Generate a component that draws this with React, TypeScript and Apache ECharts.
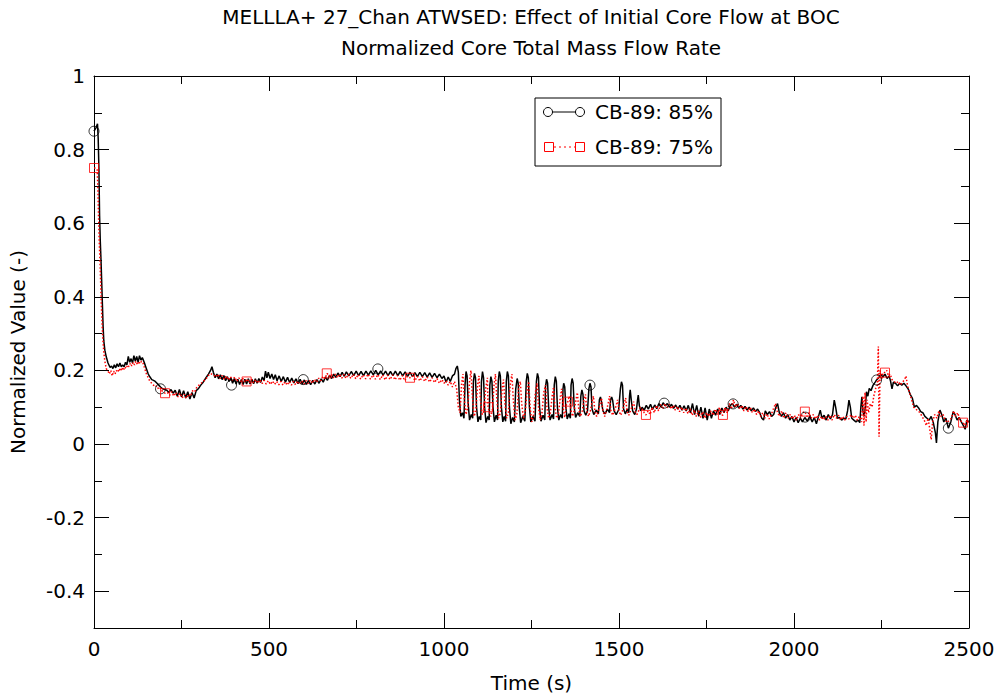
import React, { useEffect, useRef } from "react";
import * as echarts from "echarts";

const FONT = '"DejaVu Sans", sans-serif';

const titleLines = [
  "MELLLA+ 27_Chan ATWSED: Effect of Initial Core Flow at BOC",
  "Normalized Core Total Mass Flow Rate",
];
const seriesNames = ["CB-89: 85%", "CB-89: 75%"];
const xTicks = [0, 500, 1000, 1500, 2000, 2500];
const yMajorTicks = [-0.4, -0.2, 0, 0.2, 0.4, 0.6, 0.8, 1];
const yMinorTicks = [-0.5, -0.3, -0.1, 0.1, 0.3, 0.5, 0.7, 0.9];

// CB-89: 85% (black) — [time s, normalized value]
const cb85: number[][] = [
  [0,0.85],[6,0.86],[10,0.87],[12,0.83],[14,0.75],[16,0.62],[18,0.55],[20,0.5],[22,0.44],[24,0.38],[26,0.32],[28,0.28],[31,0.255],[35,0.237],[40,0.22],
  [46,0.208],[50,0.212],[54,0.205],[58,0.215],[62,0.207],[66,0.218],[70,0.21],[74,0.22],[78,0.21],[82,0.215],[86,0.21],[90,0.222],[94,0.215],[98,0.238],[102,0.222],[106,0.232],[110,0.22],[114,0.24],[118,0.225],[122,0.238],[126,0.222],[130,0.24],[134,0.228],[138,0.235],
  [141,0.228],[146,0.215],[150,0.204],[155,0.19],[160,0.182],[165,0.175],[170,0.173],[175,0.17],[180,0.165],[185,0.16],[190,0.155],[196,0.15],[202,0.148],[208,0.146],[214,0.14],[220,0.148],[226,0.138],[232,0.146],[238,0.13],[244,0.148],[250,0.128],[256,0.145],[262,0.125],[268,0.142],[274,0.122],[280,0.14],[286,0.125],[292,0.145],[298,0.15],[305,0.16],[312,0.168],[320,0.18],[327,0.19],[333,0.2],[337,0.21],
  [341,0.195],[346,0.18],[351,0.19],[356,0.177],[361,0.188],[366,0.175],[371,0.186],[376,0.172],[381,0.183],[386,0.17],[391,0.18],[396,0.165],[401,0.178],[406,0.163],[411,0.176],[416,0.162],[421,0.175],[426,0.162],[431,0.176],[436,0.163],[441,0.177],[446,0.163],[451,0.176],[456,0.164],[461,0.177],[466,0.165],[471,0.178],[476,0.167],[481,0.182],[486,0.172],[490,0.198],[494,0.18],[498,0.195],[503,0.178],[508,0.19],[513,0.175],[518,0.188],[523,0.172],[529,0.185],[535,0.17],[541,0.183],[547,0.168],[553,0.181],[559,0.167],[565,0.179],[571,0.166],[577,0.177],[583,0.164],[589,0.176],[595,0.163],[601,0.174],[607,0.162],[613,0.172],[619,0.161],[625,0.173],[631,0.163],[637,0.175],[643,0.165],[649,0.177],[655,0.168],[661,0.182],[667,0.173],[673,0.187],[679,0.178],[685,0.19],[691,0.181],[697,0.193],[703,0.183],[709,0.195],[715,0.184],[721,0.196],[728,0.185],[735,0.197],[742,0.186],[749,0.198],[756,0.186],[763,0.197],[770,0.186],[777,0.198],[784,0.187],[791,0.199],[798,0.188],[805,0.2],[812,0.188],[819,0.199],[826,0.187],[833,0.198],[840,0.186],[847,0.197],[854,0.186],[861,0.198],[868,0.186],[875,0.197],[882,0.185],[889,0.196],[896,0.184],[903,0.195],[910,0.183],[917,0.194],[924,0.183],[931,0.195],[938,0.183],[945,0.194],[952,0.182],[959,0.193],[966,0.181],[973,0.192],[980,0.18],[987,0.19],[994,0.178],[1000,0.185],[1006,0.168],[1012,0.182],[1018,0.17],[1024,0.185],
  [1030,0.19],[1034,0.205],[1038,0.212],[1041,0.195],[1044,0.12],[1048,0.075],[1053,0.085],[1057,0.07],[1060,0.16],[1063,0.197],[1066,0.185],[1069,0.11],[1073,0.065],[1078,0.08],[1082,0.07],[1084,0.17],[1087,0.192],[1090,0.18],[1093,0.1],[1097,0.06],[1101,0.075],[1105,0.065],[1107,0.17],[1110,0.197],[1113,0.18],[1116,0.1],[1120,0.058],[1125,0.075],[1129,0.065],[1131,0.16],[1134,0.183],[1137,0.17],[1140,0.1],[1144,0.06],[1149,0.078],[1153,0.065],[1155,0.17],[1158,0.197],[1161,0.185],[1164,0.1],[1168,0.06],[1172,0.075],[1176,0.062],[1178,0.17],[1181,0.197],[1184,0.185],[1187,0.1],[1191,0.055],[1196,0.072],[1201,0.06],[1205,0.15],[1209,0.178],[1212,0.165],[1215,0.1],[1219,0.058],[1225,0.075],[1231,0.062],[1235,0.17],[1238,0.192],[1241,0.18],[1244,0.1],[1248,0.06],[1254,0.075],[1260,0.062],[1264,0.17],[1267,0.192],[1270,0.18],[1273,0.1],[1277,0.062],[1283,0.078],[1288,0.065],[1290,0.155],[1293,0.176],[1296,0.165],[1299,0.1],[1303,0.065],[1309,0.08],[1313,0.068],[1315,0.16],[1318,0.183],[1321,0.17],[1324,0.1],[1328,0.065],[1333,0.08],[1338,0.07],[1340,0.15],[1342,0.165],[1345,0.155],[1348,0.1],[1352,0.068],[1357,0.082],[1361,0.07],[1363,0.16],[1366,0.178],[1369,0.165],[1372,0.1],[1376,0.072],[1382,0.085],[1388,0.075],[1391,0.13],[1394,0.147],[1397,0.135],[1400,0.09],[1405,0.078],[1410,0.09],[1414,0.15],[1417,0.165],[1420,0.155],[1423,0.095],[1428,0.08],[1435,0.092],[1441,0.082],[1444,0.12],[1447,0.128],[1450,0.115],[1454,0.09],[1460,0.082],[1467,0.095],[1473,0.085],[1476,0.12],[1479,0.128],[1482,0.118],[1486,0.09],[1492,0.08],[1499,0.093],[1504,0.15],[1507,0.169],[1510,0.16],[1513,0.095],[1518,0.082],[1524,0.095],[1528,0.085],[1530,0.13],[1532,0.147],[1535,0.12],[1539,0.09],[1545,0.08],[1550,0.095],[1553,0.12],[1555,0.133],[1558,0.105],[1562,0.09],
  [1566,0.1],[1572,0.092],[1578,0.105],[1584,0.095],[1590,0.108],[1596,0.094],[1602,0.106],[1608,0.096],[1614,0.11],[1620,0.1],[1626,0.112],[1632,0.104],[1638,0.11],[1644,0.1],[1650,0.108],[1656,0.097],[1662,0.106],[1668,0.095],[1674,0.105],[1680,0.092],[1686,0.104],[1692,0.09],[1698,0.105],[1704,0.085],[1710,0.11],[1716,0.08],[1722,0.105],[1728,0.075],[1734,0.1],[1740,0.07],[1746,0.098],[1752,0.065],[1758,0.095],[1764,0.07],[1770,0.09],[1776,0.078],[1782,0.095],[1788,0.08],[1794,0.098],[1800,0.085],[1806,0.1],[1812,0.09],[1818,0.105],[1824,0.11],[1830,0.1],[1836,0.108],[1842,0.098],[1848,0.105],[1854,0.095],[1860,0.102],[1866,0.092],[1872,0.1],[1878,0.09],[1884,0.098],[1890,0.088],[1896,0.095],[1902,0.085],[1908,0.07],[1913,0.065],[1918,0.09],[1924,0.08],[1930,0.088],[1936,0.075],[1942,0.08],[1948,0.1],[1953,0.11],[1958,0.085],[1964,0.075],[1970,0.085],[1976,0.07],[1982,0.08],[1988,0.065],[1994,0.075],[2000,0.06],[2006,0.072],[2012,0.058],[2018,0.07],[2024,0.06],[2031,0.072],[2038,0.062],[2045,0.075],[2052,0.06],[2058,0.072],[2064,0.055],[2070,0.075],[2075,0.092],[2080,0.07],[2086,0.078],[2092,0.065],[2098,0.08],[2104,0.068],[2110,0.08],[2115,0.119],[2119,0.1],[2124,0.07],[2130,0.072],[2136,0.065],[2142,0.07],[2148,0.068],[2153,0.09],[2157,0.119],[2161,0.1],[2165,0.07],[2171,0.065],[2177,0.06],[2183,0.065],[2188,0.058],[2191,0.1],[2194,0.128],[2197,0.09],[2200,0.075],[2204,0.1],[2207,0.142],[2211,0.13],[2215,0.151],[2220,0.145],[2226,0.16],[2232,0.168],[2236,0.174],[2242,0.18],[2248,0.19],[2254,0.182],[2260,0.19],[2266,0.178],[2272,0.185],[2276,0.17],[2280,0.15],[2284,0.168],[2290,0.165],[2296,0.158],[2302,0.165],[2308,0.16],[2314,0.165],[2320,0.158],[2326,0.15],[2332,0.135],[2338,0.125],[2344,0.1],[2350,0.105],[2356,0.098],[2362,0.088],[2368,0.085],[2374,0.075],[2380,0.07],[2386,0.065],[2392,0.075],[2398,0.058],[2404,0.03],[2407,0.003],[2411,0.06],[2417,0.092],[2422,0.08],[2428,0.06],[2434,0.07],[2441,0.043],[2448,0.06],[2455,0.088],[2460,0.08],[2466,0.065],[2472,0.072],[2478,0.06],[2484,0.05],[2489,0.04],[2494,0.065],[2500,0.06],
];

// CB-89: 75% (red) — [time s, normalized value]
const cb75: number[][] = [
  [0,0.75],[5,0.75],[9,0.745],[11,0.7],[13,0.62],[15,0.55],[17,0.5],[19,0.44],[21,0.38],[23,0.33],[25,0.29],[28,0.25],[31,0.225],[35,0.205],[40,0.198],[44,0.19],[48,0.2],[52,0.185],[56,0.198],[60,0.19],[64,0.2],[68,0.195],[72,0.205],[76,0.198],[80,0.208],[84,0.2],[88,0.21],[92,0.205],[96,0.215],[100,0.21],[104,0.22],[108,0.212],[112,0.222],[116,0.215],[120,0.225],[124,0.215],[128,0.225],[132,0.218],[136,0.225],[140,0.22],[145,0.205],[150,0.19],[155,0.18],[160,0.17],[165,0.165],[170,0.16],[175,0.155],[180,0.158],[185,0.148],[190,0.152],[196,0.142],[203,0.138],[210,0.14],[216,0.132],[222,0.142],[228,0.13],[234,0.14],[240,0.128],[246,0.138],[252,0.125],[258,0.135],[264,0.124],[270,0.135],[276,0.13],[282,0.145],[288,0.142],[294,0.155],[300,0.16],[306,0.165],[312,0.17],[318,0.175],[324,0.182],[330,0.19],[336,0.19],[342,0.188],
  [348,0.182],[354,0.19],[360,0.178],[366,0.186],[372,0.176],[378,0.185],[384,0.174],[390,0.183],[396,0.172],[402,0.182],[408,0.17],[414,0.18],[420,0.17],[426,0.178],[432,0.168],[438,0.177],[444,0.166],[450,0.176],[456,0.166],[462,0.175],[468,0.165],[474,0.174],[480,0.164],[486,0.173],[492,0.163],[498,0.172],[504,0.162],[510,0.171],[516,0.162],[522,0.17],[528,0.161],[534,0.17],[540,0.16],[546,0.169],[552,0.16],[558,0.17],[564,0.16],[570,0.17],[576,0.161],[582,0.171],[588,0.162],[594,0.172],[600,0.163],[606,0.172],[612,0.164],[618,0.174],[624,0.165],[630,0.176],[636,0.168],[642,0.179],[648,0.172],[654,0.184],[660,0.178],[666,0.192],[672,0.184],[678,0.19],[684,0.18],[690,0.19],[696,0.18],[702,0.19],[708,0.179],[714,0.189],[720,0.178],[727,0.19],[734,0.178],[741,0.19],[748,0.177],[755,0.189],[762,0.176],[769,0.188],[776,0.177],[783,0.19],[790,0.176],[797,0.188],[804,0.176],[811,0.189],[818,0.175],[825,0.188],[832,0.174],[839,0.187],[846,0.175],[853,0.188],[860,0.174],[867,0.186],[874,0.173],[881,0.186],[888,0.172],[895,0.184],[903,0.18],[910,0.185],[917,0.172],[924,0.184],[931,0.171],[938,0.183],[945,0.17],[952,0.182],[959,0.168],[966,0.18],[973,0.167],[980,0.178],[987,0.165],[994,0.175],[1000,0.165],[1006,0.172],[1012,0.16],[1018,0.17],[1024,0.155],
  [1030,0.17],[1036,0.15],[1041,0.1],[1046,0.085],[1050,0.16],[1054,0.19],[1058,0.12],[1063,0.08],[1068,0.1],[1073,0.17],[1077,0.2],[1081,0.13],[1086,0.075],[1091,0.09],[1096,0.16],[1100,0.185],[1104,0.12],[1109,0.08],[1114,0.09],[1119,0.15],[1124,0.18],[1126,0.1],[1133,0.075],[1138,0.09],[1143,0.16],[1147,0.19],[1151,0.12],[1156,0.07],[1161,0.085],[1166,0.15],[1170,0.175],[1174,0.11],[1179,0.07],[1184,0.085],[1189,0.16],[1194,0.19],[1198,0.12],[1203,0.065],[1208,0.08],[1213,0.15],[1218,0.17],[1222,0.11],[1227,0.07],[1232,0.085],[1237,0.14],[1242,0.17],[1246,0.1],[1251,0.06],[1256,0.08],[1261,0.14],[1266,0.165],[1270,0.1],[1275,0.065],[1280,0.085],[1285,0.14],[1290,0.16],[1294,0.1],[1299,0.07],[1304,0.085],[1309,0.13],[1313,0.155],[1317,0.1],[1322,0.07],[1327,0.08],[1332,0.125],[1336,0.15],[1340,0.1],[1345,0.072],[1350,0.11],[1354,0.115],[1358,0.13],[1362,0.095],[1367,0.075],[1372,0.09],[1377,0.12],[1381,0.14],[1385,0.095],[1390,0.075],[1395,0.09],[1400,0.12],[1404,0.135],[1408,0.09],[1413,0.075],[1418,0.09],[1423,0.115],[1427,0.13],[1431,0.09],[1436,0.075],[1441,0.09],[1446,0.11],[1450,0.125],[1454,0.09],[1459,0.075],[1464,0.09],[1469,0.11],[1473,0.13],[1477,0.09],[1482,0.078],[1487,0.09],[1492,0.105],[1496,0.12],[1500,0.09],[1505,0.078],[1510,0.09],[1515,0.11],[1519,0.125],[1523,0.088],[1528,0.078],[1533,0.09],[1538,0.105],[1542,0.115],[1546,0.088],[1551,0.08],[1556,0.09],[1561,0.1],[1566,0.095],[1572,0.085],[1577,0.079],
  [1583,0.09],[1589,0.08],[1595,0.1],[1601,0.085],[1607,0.105],[1613,0.09],[1619,0.108],[1625,0.095],[1631,0.11],[1637,0.098],[1643,0.108],[1649,0.095],[1655,0.105],[1661,0.092],[1667,0.102],[1673,0.088],[1679,0.1],[1685,0.085],[1691,0.098],[1697,0.082],[1703,0.095],[1709,0.078],[1715,0.092],[1721,0.075],[1727,0.09],[1733,0.072],[1739,0.088],[1745,0.07],[1751,0.085],[1757,0.075],[1763,0.09],[1769,0.078],[1775,0.095],[1781,0.08],[1787,0.1],[1793,0.078],[1797,0.079],[1803,0.1],[1809,0.085],[1815,0.11],[1821,0.095],[1827,0.12],[1833,0.1],[1839,0.11],[1845,0.095],[1851,0.105],[1857,0.09],[1863,0.102],[1869,0.088],[1875,0.1],[1881,0.085],[1887,0.095],[1893,0.08],[1899,0.09],[1905,0.075],[1911,0.085],[1917,0.07],[1923,0.082],[1929,0.068],[1935,0.08],[1941,0.095],[1947,0.11],[1953,0.085],[1959,0.075],[1965,0.09],[1971,0.07],[1977,0.085],[1983,0.07],[1989,0.08],[1995,0.068],[2001,0.078],[2007,0.065],[2013,0.08],[2019,0.07],[2025,0.085],[2031,0.088],[2037,0.075],[2043,0.085],[2049,0.07],[2055,0.08],[2061,0.068],[2067,0.078],[2073,0.065],[2079,0.075],[2085,0.065],[2091,0.075],[2097,0.065],[2103,0.078],[2109,0.065],[2115,0.08],[2121,0.07],[2127,0.078],[2133,0.065],[2139,0.075],[2145,0.065],[2151,0.075],[2157,0.068],[2163,0.08],[2169,0.07],[2175,0.078],[2181,0.065],[2187,0.075],[2193,0.06],[2197,0.13],[2200,0.05],[2203,0.14],[2206,0.06],[2209,0.12],[2213,0.085],[2218,0.11],[2223,0.1],[2228,0.13],[2233,0.15],[2238,0.16],[2241,0.265],[2243,0.02],[2246,0.2],[2250,0.175],[2255,0.195],[2260,0.194],[2265,0.2],[2270,0.185],[2275,0.19],[2280,0.175],[2286,0.17],[2292,0.165],[2298,0.17],[2304,0.16],[2310,0.168],[2316,0.175],[2320,0.185],[2324,0.16],[2330,0.14],[2336,0.12],[2342,0.1],[2348,0.095],[2354,0.09],[2360,0.085],[2366,0.075],[2372,0.065],[2378,0.05],[2383,0.07],[2388,0.04],[2392,0.012],[2396,0.06],[2402,0.08],[2408,0.07],[2414,0.09],[2420,0.075],[2426,0.08],[2432,0.065],[2438,0.058],[2444,0.065],[2450,0.07],[2456,0.09],[2462,0.075],[2468,0.085],[2474,0.065],[2480,0.06],[2483,0.058],[2488,0.05],[2494,0.065],[2500,0.055],
];

// marker positions (every n-th sample in the source plot)
const cb85Markers: number[][] = [
  [0,0.85],[190,0.15],[393,0.16],[598,0.175],[811,0.204],[1417,0.16],[1629,0.111],[1826,0.109],[2032,0.073],[2236,0.174],[2441,0.043],
];
const cb75Markers: number[][] = [
  [0,0.75],[203,0.138],[436,0.17],[665,0.192],[903,0.18],[1126,0.1],[1354,0.115],[1577,0.079],[1797,0.079],[2031,0.088],[2260,0.194],[2483,0.058],
];

const axisLineStyle = { show: true, onZero: false, lineStyle: { color: "#000", width: 1 } };
const labelStyle = { fontFamily: FONT, fontSize: 20, color: "#000" };

function fmtY(v: number) {
  const r = Math.round(v * 10) / 10;
  if (r === 0) return "0";
  if (r === 1) return "1";
  return r.toFixed(1);
}

function xAxisDef(position: "bottom" | "top", withLabels: boolean) {
  return {
    type: "value",
    position,
    min: 0,
    max: 2500,
    interval: 500,
    name: withLabels ? "Time (s)" : "",
    nameLocation: "middle",
    nameGap: 45,
    nameTextStyle: labelStyle,
    axisLine: axisLineStyle,
    axisTick: { show: true, inside: true, length: 15, lineStyle: { color: "#000", width: 1 } },
    minorTick: { show: true, splitNumber: 2, length: 8, lineStyle: { color: "#000", width: 1 } },
    axisLabel: { show: withLabels, ...labelStyle, margin: 11, formatter: (v: number) => String(v), customValues: xTicks },
    splitLine: { show: false },
    minorSplitLine: { show: false },
  };
}

function yAxisDef(position: "left" | "right", major: boolean, withLabels: boolean) {
  const ticks = major ? yMajorTicks : yMinorTicks;
  return {
    type: "value",
    position,
    min: -0.5,
    max: 1,
    name: withLabels ? "Normalized Value (-)" : "",
    nameLocation: "middle",
    nameGap: 66,
    nameTextStyle: labelStyle,
    axisLine: major ? axisLineStyle : { show: false, onZero: false },
    axisTick: { show: true, inside: true, length: major ? 15 : 8, customValues: ticks, lineStyle: { color: "#000", width: 1 } },
    axisLabel: { show: withLabels, ...labelStyle, margin: 9, customValues: ticks, formatter: (v: number) => fmtY(v) },
    splitLine: { show: false },
  };
}

export default function App() {
  const ref = useRef<HTMLDivElement>(null);
  useEffect(() => {
    if (!ref.current) return;
    const chart = echarts.init(ref.current, undefined, { renderer: "svg" });
    const legendX = 535, legendY = 98;
    chart.setOption({
      animation: false,
      backgroundColor: "#fff",
      grid: { left: 94, right: 31, top: 76, bottom: 72, containLabel: false },
      xAxis: [xAxisDef("bottom", true), xAxisDef("top", false)],
      yAxis: [
        yAxisDef("left", true, true),
        yAxisDef("left", false, false),
        yAxisDef("right", true, false),
        yAxisDef("right", false, false),
      ],
      series: [
        {
          name: seriesNames[0],
          type: "line",
          data: cb85,
          showSymbol: false,
          symbol: "none",
          lineStyle: { color: "#000", width: 1.5 },
          itemStyle: { color: "#000" },
          z: 2,
        },
        {
          name: seriesNames[1],
          type: "line",
          data: cb75,
          showSymbol: false,
          symbol: "none",
          lineStyle: { color: "#ff0000", width: 1.5, type: [1.5, 2] },
          itemStyle: { color: "#ff0000" },
          z: 3,
        },
        {
          name: seriesNames[0] + " markers",
          type: "scatter",
          data: cb85Markers,
          symbol: "circle",
          symbolSize: 10,
          itemStyle: { color: "rgba(0,0,0,0)", borderColor: "#000", borderWidth: 1 },
          z: 4,
        },
        {
          name: seriesNames[1] + " markers",
          type: "scatter",
          data: cb75Markers,
          symbol: "rect",
          symbolSize: 9,
          itemStyle: { color: "rgba(0,0,0,0)", borderColor: "#ff0000", borderWidth: 1 },
          z: 5,
        },
      ],
      graphic: {
        elements: [
          {
            type: "text", x: 531, y: 17, z: 10,
            style: { text: titleLines[0], font: `20px ${FONT}`, fill: "#000", textAlign: "center", textVerticalAlign: "middle", align: "center", verticalAlign: "middle" },
          },
          {
            type: "text", x: 531, y: 48, z: 10,
            style: { text: titleLines[1], font: `20px ${FONT}`, fill: "#000", textAlign: "center", textVerticalAlign: "middle", align: "center", verticalAlign: "middle" },
          },
          {
            type: "rect", z: 20,
            shape: { x: legendX, y: legendY, width: 186, height: 68 },
            style: { fill: "#fff", stroke: "#000", lineWidth: 1 },
          },
          {
            type: "line", z: 21,
            shape: { x1: 548, y1: 112, x2: 580, y2: 112 },
            style: { stroke: "#000", lineWidth: 1 },
          },
          { type: "circle", z: 22, shape: { cx: 548, cy: 112, r: 4.5 }, style: { fill: "#fff", stroke: "#000", lineWidth: 1 } },
          { type: "circle", z: 22, shape: { cx: 580, cy: 112, r: 4.5 }, style: { fill: "#fff", stroke: "#000", lineWidth: 1 } },
          {
            type: "text", x: 595, y: 112, z: 22,
            style: { text: seriesNames[0], font: `20px ${FONT}`, fill: "#000", textVerticalAlign: "middle", verticalAlign: "middle" },
          },
          {
            type: "line", z: 21,
            shape: { x1: 549, y1: 147, x2: 580, y2: 147 },
            style: { stroke: "#ff0000", lineWidth: 1, lineDash: [2, 3] },
          },
          { type: "rect", z: 22, shape: { x: 544.5, y: 142.5, width: 9, height: 9 }, style: { fill: "#fff", stroke: "#ff0000", lineWidth: 1 } },
          { type: "rect", z: 22, shape: { x: 575.5, y: 142.5, width: 9, height: 9 }, style: { fill: "#fff", stroke: "#ff0000", lineWidth: 1 } },
          {
            type: "text", x: 595, y: 147, z: 22,
            style: { text: seriesNames[1], font: `20px ${FONT}`, fill: "#000", textVerticalAlign: "middle", verticalAlign: "middle" },
          },
        ],
      },
    });
    return () => chart.dispose();
  }, []);
  return (
    <div
      ref={ref}
      style={{ position: "fixed", left: 0, top: 0, width: 1000, height: 700, background: "#fff" }}
    />
  );
}
